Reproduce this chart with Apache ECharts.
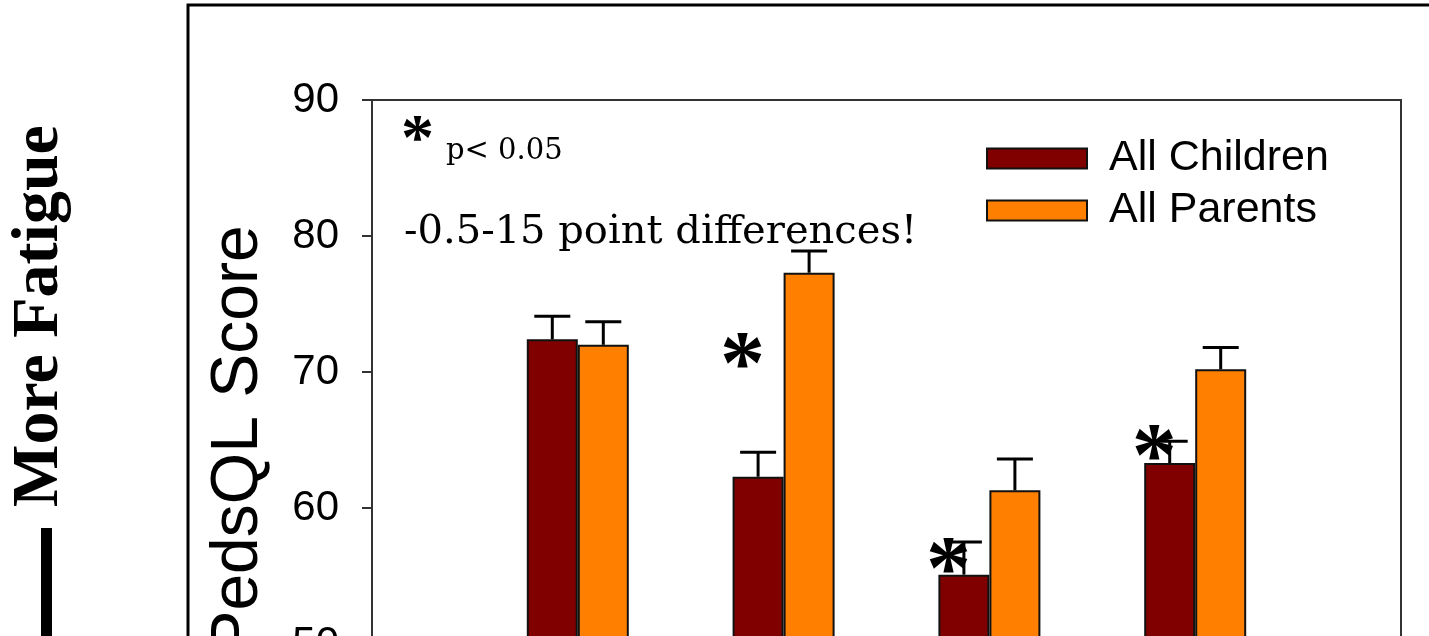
<!DOCTYPE html>
<html>
<head>
<meta charset="utf-8">
<script src="https://cdn.jsdelivr.net/npm/echarts@6/dist/echarts.min.js"></script>
<style>
  html, body { margin: 0; padding: 0; background: #fff; }
  #chart { width: 1429px; height: 636px; }
</style>
</head>
<body>
<div id="chart"></div>
<script>
// Categories (first and last are empty padding slots on the axis)
const categories = ['', 'General', 'Sleep/Rest', 'Cognitive', 'Total', ''];
const seriesNames = ['All Children', 'All Parents'];
const childrenValues = [null, 72.4, 62.3, 55.1, 63.3, null];
const parentsValues  = [null, 72.0, 77.3, 61.3, 70.2, null];
const childrenErr    = [null, 1.7, 1.8, 2.4, 1.6, null];
const parentsErr     = [null, 1.7, 1.6, 2.3, 1.6, null];
// significance asterisk positions (value level of the marker)
const sigLevels      = [null, null, 71.5, 56.4, 64.7, null];
const yTicks = { min: 40, max: 90, interval: 10 };

const BAR_W = 51;
const CAP_HALF = 18;

function errData(vals, errs) {
  const out = [];
  vals.forEach((v, i) => { if (v != null) out.push([i, v, errs[i]]); });
  return out;
}
function makeErrSeries(vals, errs, dir) {
  return {
    type: 'custom',
    z: 5,
    silent: true,
    data: errData(vals, errs),
    renderItem: function (params, api) {
      const base = api.coord([api.value(0), api.value(1)]);
      const top = api.coord([api.value(0), api.value(1) + api.value(2)]);
      const x = base[0] + dir * BAR_W / 2;
      const st = { stroke: '#000', lineWidth: 3 };
      return {
        type: 'group',
        children: [
          { type: 'line', shape: { x1: x, y1: base[1], x2: x, y2: top[1] }, style: st },
          { type: 'line', shape: { x1: x - CAP_HALF, y1: top[1], x2: x + CAP_HALF, y2: top[1] }, style: st }
        ]
      };
    }
  };
}

const sigData = [];
sigLevels.forEach((v, i) => { if (v != null) sigData.push([i, v]); });

const chart = echarts.init(document.getElementById('chart'));
chart.setOption({
  animation: false,
  backgroundColor: '#fff',
  grid: {
    left: 372, top: 100, right: 28, bottom: -144,
    outerBoundsMode: 'none', containLabel: false,
    show: true, borderColor: '#333', borderWidth: 2, backgroundColor: 'transparent'
  },
  legend: {
    data: seriesNames,
    orient: 'vertical',
    left: 981, top: 132,
    itemWidth: 100, itemHeight: 20, itemGap: 9,
    icon: 'rect',
    itemStyle: { borderColor: '#111', borderWidth: 2 },
    textStyle: { fontSize: 43, fontFamily: 'Liberation Sans', color: '#000', padding: [0, 0, 0, 17] }
  },
  xAxis: {
    type: 'category',
    data: categories,
    boundaryGap: false,
    axisLine: { show: true, lineStyle: { color: '#333', width: 2 } },
    axisTick: { show: false },
    axisLabel: { show: false },
    splitLine: { show: false }
  },
  yAxis: {
    type: 'value',
    min: yTicks.min, max: yTicks.max, interval: yTicks.interval,
    name: 'PedsQL Score',
    nameLocation: 'middle',
    nameGap: 100,
    nameTextStyle: { fontSize: 66, fontFamily: 'Liberation Sans', color: '#000' },
    axisLine: { show: true, lineStyle: { color: '#333', width: 2 } },
    axisTick: { show: true, length: 10, lineStyle: { color: '#333', width: 2 } },
    axisLabel: { fontSize: 42, fontFamily: 'Liberation Sans', color: '#000', margin: 33 },
    splitLine: { show: false }
  },
  series: [
    {
      name: seriesNames[0], type: 'bar', data: childrenValues,
      barWidth: BAR_W, barGap: '0%',
      itemStyle: { color: '#800000', borderColor: '#111', borderWidth: 2 }
    },
    {
      name: seriesNames[1], type: 'bar', data: parentsValues,
      barWidth: BAR_W, barGap: '0%',
      itemStyle: { color: '#FF8000', borderColor: '#111', borderWidth: 2 }
    },
    makeErrSeries(childrenValues, childrenErr, -1),
    makeErrSeries(parentsValues, parentsErr, 1),
    {
      type: 'scatter', z: 6, silent: true,
      data: sigData,
      symbolSize: 0,
      itemStyle: { color: '#000' },
      label: {
        show: true, position: 'inside', formatter: '*',
        offset: [-41, 18],
        fontSize: 90, fontWeight: 'bold', fontFamily: 'Liberation Serif',
        color: '#000', textBorderWidth: 0, opacity: 1
      }
    }
  ],
  graphic: [
    { type: 'rect', shape: { x: 188, y: 5, width: 1400, height: 900 },
      style: { fill: 'none', stroke: '#000', lineWidth: 3 }, silent: true },
    { type: 'text', x: 40, y: 316, rotation: Math.PI / 2,
      style: { text: 'More Fatigue', font: 'bold 66px "Liberation Serif"', fill: '#000',
               textAlign: 'center', textVerticalAlign: 'middle' } },
    { type: 'rect', shape: { x: 41, y: 528, width: 11, height: 200 },
      style: { fill: '#000' } },
    { type: 'text', x: 401, y: 142,
      style: { text: '*', font: 'bold 66px "Liberation Serif"', fill: '#000',
               textAlign: 'left', textVerticalAlign: 'middle' } },
    { type: 'text', x: 446, y: 151,
      style: { text: 'p< 0.05', font: '29px "DejaVu Serif"', fill: '#000',
               textAlign: 'left', textVerticalAlign: 'middle' } },
    { type: 'text', x: 404, y: 233,
      style: { text: '-0.5-15 point differences!', font: '40px "DejaVu Serif"', fill: '#000',
               textAlign: 'left', textVerticalAlign: 'middle' } }
  ]
});
</script>
</body>
</html>
